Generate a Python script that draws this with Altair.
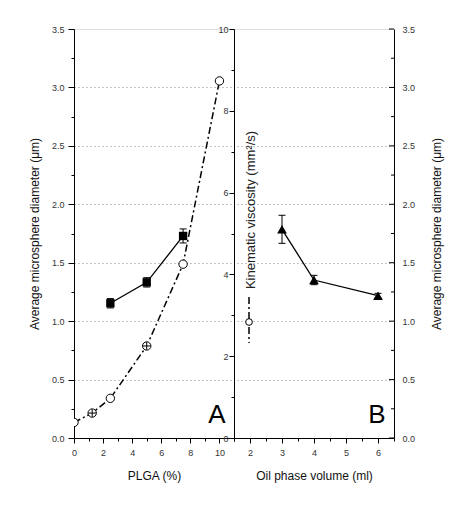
import altair as alt
import pandas as pd

# Panel A: microsphere diameter vs PLGA (%)
PLGA = [2.5, 5, 7.5]
DIAM_A = [1.153, 1.332, 1.729]
ERR_A = [0.04, 0.04, 0.06]
# Panel A: kinematic viscosity vs PLGA (%)
PLGA_V = [0, 1.25, 2.5, 5, 7.5, 10]
VISC = [0.38, 0.61, 0.97, 2.25, 4.25, 8.73]
VISC_CROSSED = [1.25, 5]
# Panel B: microsphere diameter vs oil phase volume
OIL = [3, 4, 6]
DIAM_B = [1.786, 1.352, 1.218]
ERR_B = [0.12, 0.04, 0.02]

DIAM_TICKS = [0, 0.25, 0.5, 0.75, 1, 1.25, 1.5, 1.75, 2, 2.25, 2.5, 2.75, 3, 3.25, 3.5]
DIAM_MAJOR = [0, 0.5, 1, 1.5, 2, 2.5, 3, 3.5]
DIAM_MINOR = [0.25, 0.75, 1.25, 1.75, 2.25, 2.75, 3.25]
VISC_TICKS = [0, 1, 2, 3, 4, 5, 6, 7, 8, 9, 10]
PLGA_TICKS = [0, 1, 2, 3, 4, 5, 6, 7, 8, 9, 10, 11]
OIL_TICKS = [1.5, 2, 2.5, 3, 3.5, 4, 4.5, 5, 5.5, 6, 6.5]

W, H = 160, 409
FONT = "Liberation Sans"

dfA = pd.DataFrame({"x": PLGA, "y": DIAM_A,
                    "lo": [d - e for d, e in zip(DIAM_A, ERR_A)],
                    "hi": [d + e for d, e in zip(DIAM_A, ERR_A)]})
dfV = pd.DataFrame({"x": PLGA_V, "v": VISC})
dfC = dfV[dfV["x"].isin(VISC_CROSSED)]
dfB = pd.DataFrame({"x": OIL, "y": DIAM_B,
                    "lo": [d - e for d, e in zip(DIAM_B, ERR_B)],
                    "hi": [d + e for d, e in zip(DIAM_B, ERR_B)]})

diam_scale = alt.Scale(domain=[0, 3.5], nice=False, zero=False)
visc_scale = alt.Scale(domain=[0, 10], nice=False, zero=False)
xA_scale = alt.Scale(domain=[0, 11], nice=False, zero=False)
xB_scale = alt.Scale(domain=[1.5, 6.5], nice=False, zero=False)

common = dict(labelFont=FONT, titleFont=FONT, labelFontSize=9, titleFontSize=12,
              titleFontWeight="normal", labelColor="#333", titleColor="#111",
              domainColor="black", tickColor="black", domainWidth=1, tickWidth=1)

grid_opacity = {"condition": {"test": "datum.value % 0.5 === 0 && datum.value > 0 && datum.value < 3.5",
                              "value": 1}, "value": 0}

ax_diam_left = alt.Axis(values=DIAM_TICKS, orient="left",
                        labelExpr="datum.value % 0.5 === 0 ? format(datum.value, '.1f') : ''",
                        tickSize={"condition": {"test": "datum.value % 0.5 === 0", "value": 6}, "value": 3},
                        grid=True, gridOpacity=grid_opacity, gridDash=[1, 3], gridColor="#888",
                        title="Average microsphere diameter (μm)", labelPadding=4, titlePadding=10,
                        **common)
ax_diam_right = alt.Axis(values=DIAM_TICKS, orient="right",
                         labelExpr="datum.value % 0.5 === 0 ? format(datum.value, '.1f') : ''",
                         tickSize=0, ticks=False,
                         grid=True, gridOpacity=grid_opacity, gridDash=[1, 3], gridColor="#888",
                         title="Average microsphere diameter (μm)", titleAngle=270,
                         labelPadding=8, titlePadding=29, **common)
ax_visc = alt.Axis(values=VISC_TICKS, orient="left",
                   labelExpr="datum.value % 2 === 0 ? datum.label : ''",
                   tickSize={"condition": {"test": "datum.value % 2 === 0", "value": 5}, "value": 3},
                   grid=False, title=None, labelPadding=1, **common)
ax_xA = alt.Axis(values=PLGA_TICKS,
                 labelExpr="datum.value % 2 === 0 && datum.value <= 10 ? format(datum.value, 'd') : ''",
                 tickSize={"condition": {"test": "datum.value % 2 === 0", "value": 5}, "value": 3},
                 grid=False, title="PLGA (%)", labelPadding=5, titlePadding=13,
                 labelFlush=False, **common)
ax_xB = alt.Axis(values=OIL_TICKS,
                 labelExpr="datum.value % 1 === 0 ? format(datum.value, 'd') : ''",
                 tickSize={"condition": {"test": "datum.value % 1 === 0", "value": 5}, "value": 3},
                 grid=False, title="Oil phase volume (ml)", labelPadding=5, titlePadding=13,
                 labelFlush=False, **common)

# ---------------- Panel A ----------------
xA = alt.X("x:Q", scale=xA_scale, axis=ax_xA)
yA = alt.Y("y:Q", scale=diam_scale, axis=ax_diam_left)
baseA = alt.Chart(dfA)
diamA = alt.layer(
    baseA.mark_line(color="black", strokeWidth=1.3).encode(x=xA, y=yA),
    baseA.mark_rule(color="black", strokeWidth=1).encode(x=xA, y=alt.Y("lo:Q", scale=diam_scale, axis=ax_diam_left), y2="hi:Q"),
    baseA.mark_tick(color="black", size=7, thickness=1, orient="horizontal", opacity=1).encode(x=xA, y=alt.Y("lo:Q", scale=diam_scale, axis=ax_diam_left)),
    baseA.mark_tick(color="black", size=7, thickness=1, orient="horizontal", opacity=1).encode(x=xA, y=alt.Y("hi:Q", scale=diam_scale, axis=ax_diam_left)),
    baseA.mark_point(shape="square", filled=True, color="black", size=70, opacity=1).encode(x=xA, y=yA),
)
yV = alt.Y("v:Q", scale=visc_scale, axis=None)
viscA = alt.layer(
    alt.Chart(dfV).mark_line(color="black", strokeWidth=1.5, strokeDash=[7, 3, 2, 3], clip=True).encode(x=xA, y=yV),
    alt.Chart(dfV).mark_point(shape="circle", filled=True, fill="white", stroke="black", strokeWidth=1,
                              size=70, opacity=1, clip=True).encode(x=xA, y=yV),
    alt.Chart(dfC).mark_point(shape="M-1,0L1,0M0,-1L0,1", filled=False, stroke="black", strokeWidth=1,
                              size=60, opacity=1).encode(x=xA, y=yV),
)
labelA = alt.Chart(pd.DataFrame({"t": ["A"]})).mark_text(
    font=FONT, fontSize=26, color="black", align="center", baseline="middle"
).encode(x=alt.value(143), y=alt.value(386), text="t:N")
panelA = alt.layer(diamA, viscA, labelA).resolve_scale(y="independent").properties(width=W, height=H)

# ---------------- Panel B ----------------
xB = alt.X("x:Q", scale=xB_scale, axis=ax_xB)
yB = alt.Y("y:Q", scale=diam_scale, axis=ax_diam_right)
baseB = alt.Chart(dfB)
diamB = alt.layer(
    baseB.mark_line(color="black", strokeWidth=1.3).encode(x=xB, y=yB),
    baseB.mark_rule(color="black", strokeWidth=1).encode(x=xB, y=alt.Y("lo:Q", scale=diam_scale, axis=ax_diam_right), y2="hi:Q"),
    baseB.mark_tick(color="black", size=7, thickness=1, orient="horizontal", opacity=1).encode(x=xB, y=alt.Y("lo:Q", scale=diam_scale, axis=ax_diam_right)),
    baseB.mark_tick(color="black", size=7, thickness=1, orient="horizontal", opacity=1).encode(x=xB, y=alt.Y("hi:Q", scale=diam_scale, axis=ax_diam_right)),
    baseB.mark_point(shape="triangle-up", filled=True, color="black", size=95, opacity=1).encode(x=xB, y=yB),
    alt.Chart(pd.DataFrame({"y": DIAM_MAJOR})).mark_tick(color="black", size=5, thickness=1, orient="horizontal", opacity=1).encode(
        x=alt.value(W - 2.5), y=yB),
    alt.Chart(pd.DataFrame({"y": DIAM_MINOR})).mark_tick(color="black", size=3, thickness=1, orient="horizontal", opacity=1).encode(
        x=alt.value(W - 1.5), y=yB),
)
viscB = alt.Chart(dfV).mark_point(opacity=0).encode(
    x=alt.value(0), y=alt.Y("v:Q", scale=visc_scale, axis=ax_visc))
legend = alt.layer(
    alt.Chart(pd.DataFrame({"t": ["Kinematic viscosity (mm²/s)"]})).mark_text(
        font=FONT, fontSize=13, color="#222", angle=270, align="center", baseline="middle"
    ).encode(x=alt.value(17), y=alt.value(181), text="t:N"),
    alt.Chart(pd.DataFrame({"t": ["sym"]})).mark_rule(color="black", strokeWidth=1.5, strokeDash=[7, 3, 2, 3]).encode(
        x=alt.value(15), y=alt.value(268), y2=alt.value(314)),
    alt.Chart(pd.DataFrame({"t": ["sym"]})).mark_point(shape="circle", filled=True, fill="white", stroke="black",
                                                      strokeWidth=1, size=45, opacity=1).encode(
        x=alt.value(15), y=alt.value(293)),
)
labelB = alt.Chart(pd.DataFrame({"t": ["B"]})).mark_text(
    font=FONT, fontSize=26, color="black", align="center", baseline="middle"
).encode(x=alt.value(143), y=alt.value(386), text="t:N")
panelB = alt.layer(viscB, diamB, legend, labelB).resolve_scale(y="independent").properties(width=W, height=H)

chart = alt.hconcat(panelA, panelB, spacing=0, bounds="flush").configure_view(stroke=None).configure(
    font=FONT).properties(padding={"left": 19, "top": 16, "right": 5, "bottom": 5})

chart.save("out.html", embed_options={"renderer": "svg", "actions": False})
